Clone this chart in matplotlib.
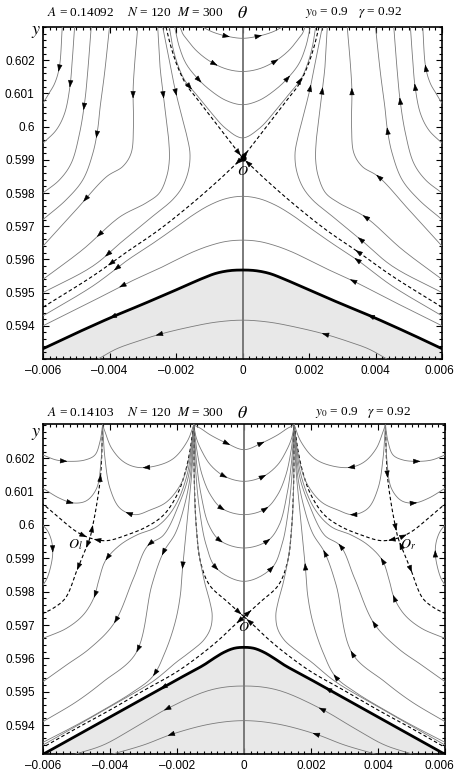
import numpy as np
import matplotlib
matplotlib.use("Agg")
import matplotlib.pyplot as plt
from matplotlib.ticker import FixedLocator, MultipleLocator, FuncFormatter
from matplotlib.transforms import ScaledTranslation

plt.rcParams['font.family'] = 'serif'
plt.rcParams['font.serif'] = ['Liberation Serif', 'DejaVu Serif']
plt.rcParams['mathtext.fontset'] = 'stix'

# ---------------- data: theta in units of 1e-3, y as read ----------------
# upper panel (A = 0.14092); right halves, mirrored for the left side
t_H1_th = [0, 0.5, 0.9, 1.2]
t_H1_y = [0.60266, 0.60273, 0.60285, 0.6030]
t_H2_th = [0, 0.5, 1.0, 1.4, 1.65, 1.8, 1.88]
t_H2_y = [0.60166, 0.60174, 0.60198, 0.6023, 0.6026, 0.6028, 0.6030]
t_H3_th = [0, 0.5, 1.0, 1.37, 1.7, 1.9, 2.04]
t_H3_y = [0.60066, 0.60079, 0.60112, 0.60147, 0.6019, 0.6024, 0.6030]
t_H4_th = [0, 0.5, 1.0, 1.4, 1.74, 1.96, 2.1, 2.2]
t_H4_y = [0.59966, 0.59994, 0.60049, 0.60098, 0.6014, 0.6019, 0.6024, 0.6030]
t_DU_th = [0, 0.5, 1.0, 1.4, 1.69, 1.95, 2.15, 2.3]
t_DU_y = [0.59906, 0.59971, 0.60036, 0.60088, 0.60126, 0.6018, 0.6024, 0.6030]
t_DL_th = [0, 0.35, 0.69, 1.5, 2.5, 3.47, 4.5, 6.0]
t_DL_y = [0.59906, 0.59873, 0.59841, 0.5977, 0.5969, 0.59623, 0.5955, 0.59456]
t_C1_th = [2.40, 2.20, 2.04, 1.85, 1.67, 1.58, 1.62, 1.80, 2.10, 2.70, 3.54, 4.50, 6.00]
t_C1_y = [0.6030, 0.6020, 0.60118, 0.6004, 0.5997, 0.5992, 0.5987, 0.5982, 0.5978, 0.5973, 0.59661, 0.5958, 0.5950]
t_C2_th = [2.55, 2.48, 2.40, 2.30, 2.22, 2.20, 2.28, 2.50, 2.90, 3.69, 4.80, 6.00]
t_C2_y = [0.6030, 0.6018, 0.6011, 0.6003, 0.5996, 0.5990, 0.5985, 0.5980, 0.5977, 0.59728, 0.5963, 0.5954]
t_C3_th = [3.15, 3.25, 3.29, 3.28, 3.35, 3.60, 4.09, 5.00, 6.00]
t_C3_y = [0.6030, 0.6018, 0.60108, 0.6000, 0.5992, 0.5988, 0.59849, 0.5975, 0.5964]
t_C4_th = [4.00, 4.15, 4.28, 4.36, 4.50, 4.80, 5.30, 6.00]
t_C4_y = [0.6030, 0.6016, 0.6006, 0.59989, 0.5992, 0.5984, 0.5978, 0.5972]
t_C5_th = [4.55, 4.66, 4.74, 4.90, 5.15, 5.50, 6.00]
t_C5_y = [0.6030, 0.6016, 0.60079, 0.5998, 0.5989, 0.5984, 0.5980]
t_C6_th = [5.05, 5.12, 5.19, 5.35, 5.60, 6.00]
t_C6_y = [0.6030, 0.6020, 0.60121, 0.6004, 0.5999, 0.5995]
t_C7_th = [5.42, 5.51, 5.65, 5.82, 6.00]
t_C7_y = [0.6030, 0.60178, 0.6013, 0.6010, 0.6007]
t_A_th = [0, 0.5, 1.0, 1.5, 2.0, 2.7, 3.44, 4.5, 6.0]
t_A_y = [0.5979, 0.59783, 0.59763, 0.59733, 0.59697, 0.59648, 0.59599, 0.5952, 0.5943]
t_B_th = [0, 0.5, 1.0, 1.5, 2.0, 2.5, 3.31, 4.5, 6.0]
t_B_y = [0.59658, 0.59654, 0.59641, 0.59622, 0.59598, 0.59573, 0.59536, 0.59475, 0.5940]
t_bold_th = [0, 0.4, 0.8, 1.2, 2.0, 3.0, 3.84, 5.0, 6.0]
t_bold_y = [0.59568, 0.59566, 0.59558, 0.59543, 0.59508, 0.59465, 0.5943, 0.59378, 0.59331]
t_D_th = [0, 0.8, 1.6, 2.47, 3.2, 3.8, 4.34]
t_D_y = [0.59417, 0.59411, 0.59396, 0.59375, 0.59352, 0.5933, 0.5930]

# lower panel (A = 0.14103)
b_U1_th = [0, 0.53, 1.0, 1.3, 1.5]
b_U1_y = [0.60226, 0.60246, 0.6027, 0.6029, 0.6030]
b_U2_th = [0, 0.58, 1.0, 1.25, 1.42, 1.5]
b_U2_y = [0.60131, 0.60146, 0.6018, 0.6022, 0.6026, 0.6030]
b_U3_th = [0, 0.65, 1.0, 1.25, 1.4, 1.5]
b_U3_y = [0.60031, 0.60049, 0.6009, 0.6015, 0.6022, 0.6030]
b_U4_th = [0, 0.71, 1.05, 1.28, 1.42, 1.5]
b_U4_y = [0.59931, 0.59953, 0.6000, 0.6009, 0.6019, 0.6030]
b_U5_th = [0, 0.83, 1.13, 1.32, 1.44, 1.5]
b_U5_y = [0.59831, 0.59871, 0.5994, 0.6004, 0.6016, 0.6030]
b_DC_th = [0, 0.5, 1.03, 1.3, 1.42, 1.48, 1.5]
b_DC_y = [0.59725, 0.5977, 0.5982, 0.5989, 0.5999, 0.6012, 0.6030]
b_DD_th = [0, 0.3, 0.7, 1.2, 2.0, 3.0, 4.0, 5.0, 6.0]
b_DD_y = [0.59725, 0.59698, 0.5966, 0.59618, 0.5956, 0.59503, 0.59445, 0.5939, 0.59333]
b_bold_th = [0, 0.3, 0.6, 0.9, 1.2, 2.0, 3.0, 4.0, 5.0, 6.0]
b_bold_y = [0.59633, 0.5963, 0.59618, 0.596, 0.5958, 0.59536, 0.5948, 0.59424, 0.59368, 0.59312]
b_G1_th = [0, 1.0, 2.31, 3.3, 4.2, 5.12]
b_G1_y = [0.59517, 0.59505, 0.59448, 0.5939, 0.5934, 0.5931]
b_G2_th = [0, 1.0, 2.13, 3.0, 4.02]
b_G2_y = [0.59413, 0.59403, 0.59373, 0.5934, 0.5931]
b_F4_th = [1.5, 1.49, 1.45, 1.35, 1.18, 1.02, 0.95, 1.0, 1.2, 1.6, 2.0, 2.73, 4.0, 5.0, 6.0]
b_F4_y = [0.6030, 0.6016, 0.6003, 0.5992, 0.5983, 0.5977, 0.5973, 0.5969, 0.59655, 0.5962, 0.5959, 0.5953, 0.59455, 0.59397, 0.5934]
b_F3_th = [1.5, 1.55, 1.65, 1.75, 1.83, 1.9, 2.05, 2.35, 2.73, 3.3, 4.2, 5.0, 6.0]
b_F3_y = [0.6030, 0.6017, 0.6006, 0.5996, 0.59877, 0.5979, 0.5971, 0.5962, 0.59545, 0.5950, 0.59445, 0.5940, 0.59348]
b_F2_th = [1.5, 1.6, 1.8, 2.05, 2.41, 2.75, 3.23, 4.2, 5.0, 6.0]
b_F2_y = [0.6030, 0.6015, 0.6005, 0.59975, 0.59917, 0.5982, 0.59615, 0.5953, 0.5947, 0.5941]
b_F1_th = [1.5, 1.65, 1.95, 2.4, 2.88, 3.3, 3.88, 4.6, 5.3, 6.0]
b_F1_y = [0.6030, 0.6015, 0.6006, 0.5997, 0.59937, 0.5984, 0.59705, 0.5963, 0.5958, 0.5953]
b_F0_th = [1.5, 1.7, 2.1, 2.6, 3.2, 3.7, 4.13, 4.32, 4.48, 4.8, 5.3, 6.0]
b_F0_y = [0.6030, 0.6015, 0.6005, 0.59995, 0.5997, 0.5994, 0.59894, 0.5984, 0.59782, 0.5973, 0.5969, 0.5966]
b_SV_th = [4.22, 4.28, 4.4, 4.53, 4.6, 4.8, 4.98, 5.33, 5.7, 6.0]
b_SV_y = [0.6030, 0.6015, 0.6006, 0.59991, 0.59961, 0.5991, 0.59866, 0.59781, 0.5975, 0.59735]
b_SH_th = [1.5, 1.6, 1.75, 2.0, 2.4, 2.9, 3.5, 4.1, 4.6, 5.0, 5.5, 6.0]
b_SH_y = [0.6030, 0.6023, 0.6016, 0.6009, 0.6003, 0.59995, 0.5997, 0.59953, 0.59961, 0.5998, 0.6002, 0.60063]
b_A1_th = [1.5, 1.7, 2.1, 2.6, 3.18, 3.6, 3.95, 4.15, 4.22]
b_A1_y = [0.6030, 0.6025, 0.6020, 0.60178, 0.60173, 0.6019, 0.6023, 0.6028, 0.6030]
b_A2_th = [1.5, 1.6, 1.85, 2.3, 2.8, 3.25, 3.7, 4.0, 4.15, 4.22]
b_A2_y = [0.6030, 0.6022, 0.6013, 0.6007, 0.60045, 0.60031, 0.6005, 0.6011, 0.6020, 0.6030]
b_K1_th = [4.22, 4.3, 4.45, 4.75, 5.18, 5.6, 6.0]
b_K1_y = [0.6030, 0.6025, 0.6021, 0.60195, 0.60191, 0.60195, 0.6021]
b_K2_th = [4.22, 4.27, 4.4, 4.7, 5.08, 5.5, 6.0]
b_K2_y = [0.6030, 0.6019, 0.6011, 0.60073, 0.60066, 0.6008, 0.6011]
b_E_th = [6.0, 5.85, 5.74, 5.71, 5.76, 5.88, 6.0]
b_E_y = [0.6000, 0.5998, 0.5995, 0.59916, 0.5988, 0.5984, 0.5982]

x_ticks = [-0.006, -0.004, -0.002, 0, 0.002, 0.004, 0.006]
y_ticks = [0.594, 0.595, 0.596, 0.597, 0.598, 0.599, 0.600, 0.601, 0.602]

# arrow marks: (curve, theta, y, sense along the listed points)
top_arrows = [
    ('H1', 0.49, 0.60276, 1), ('H1', -0.46, 0.60276, 1),
    ('H2', 0.99, 0.60199, 1), ('H2', -0.81, 0.60193, 1),
    ('H3', 1.37, 0.60149, 1), ('H3', -1.28, 0.60139, 1),
    ('H4', 1.74, 0.6014, 1), ('H4', -1.61, 0.60116, 1),
    ('C1r', 2.04, 0.60118, -1), ('C1r', 3.54, 0.59661, -1),
    ('C1l', -1.96, 0.60104, 1), ('C1l', -4.09, 0.59619, 1),
    ('C2r', 2.44, 0.60108, -1), ('C2r', 3.69, 0.59728, -1),
    ('C2l', -2.41, 0.60091, 1), ('C2l', -4.26, 0.59669, 1),
    ('C3r', 3.29, 0.60108, -1), ('C3r', 4.09, 0.59849, -1),
    ('C3l', -3.26, 0.60096, 1), ('C3l', -4.63, 0.59769, 1),
    ('C4r', 4.36, 0.59989, -1), ('C4l', -4.36, 0.59976, 1),
    ('C5r', 4.74, 0.60079, -1), ('C5l', -4.78, 0.60056, 1),
    ('C6r', 5.19, 0.60121, -1), ('C6l', -5.11, 0.60126, 1),
    ('C7r', 5.51, 0.60178, -1), ('C7l', -5.46, 0.60173, 1),
    ('DLr', 3.47, 0.59623, -1), ('DLl', -3.94, 0.59586, 1),
    ('DLr', 0.14, 0.59893, -1), ('DLl', -0.14, 0.59893, 1),
    ('DUr', 0.12, 0.59922, 1), ('DUl', -0.12, 0.59922, -1),
    ('A', 3.44, 0.59599, -1), ('A', -3.86, 0.59573, -1),
    ('B', 3.31, 0.59536, -1), ('B', -3.61, 0.59521, -1),
    ('bold', 3.84, 0.5943, -1), ('bold', -3.96, 0.59441, -1),
    ('D', 2.47, 0.59375, -1), ('D', -2.51, 0.59376, -1),
]
bot_arrows = [
    ('U1', 0.53, 0.60246, 1), ('U1', -0.47, 0.60245, 1),
    ('U2', 0.58, 0.60146, 1), ('U2', -0.57, 0.60147, 1),
    ('U3', 0.65, 0.60049, 1), ('U3', -0.64, 0.60047, 1),
    ('U4', 0.71, 0.59953, 1), ('U4', -0.72, 0.5995, 1),
    ('U5', 0.83, 0.59871, 1), ('U5', -0.83, 0.59871, 1),
    ('A1r', 3.18, 0.60173, -1), ('A1l', -2.92, 0.60171, 1),
    ('A2r', 3.25, 0.60031, -1), ('A2l', -3.47, 0.60031, 1),
    ('K1r', 5.18, 0.60191, 1), ('K1l', -5.37, 0.60185, -1),
    ('K2r', 5.08, 0.60066, 1), ('K2l', -5.17, 0.6006, -1),
    ('Er', 5.71, 0.59916, -1), ('El', -5.67, 0.59925, 1),
    ('SVr', 4.28, 0.60151, 1), ('SVr', 4.98, 0.59866, 1),
    ('SVl', -4.27, 0.60141, -1), ('SVl', -4.92, 0.59871, 1),
    ('SVr', 4.53, 0.59991, 1), ('SVr', 4.68, 0.5994, -1),
    ('SVl', -4.53, 0.59991, -1), ('SVl', -4.68, 0.5994, 1),
    ('SHr', 4.4, 0.59955, -1), ('SHr', 4.78, 0.5997, 1),
    ('SHl', -4.4, 0.59955, 1), ('SHl', -4.78, 0.5997, -1),
    ('F0r', 4.13, 0.59894, -1), ('F0r', 4.48, 0.59782, -1),
    ('F0l', -4.12, 0.59906, 1), ('F0l', -4.42, 0.5979, 1),
    ('F1r', 2.88, 0.59937, -1), ('F1r', 3.88, 0.59705, -1),
    ('F1l', -2.82, 0.59941, 1), ('F1l', -3.84, 0.59712, 1),
    ('F2r', 2.41, 0.59917, -1), ('F2r', 3.23, 0.59615, -1),
    ('F2l', -2.37, 0.59916, 1), ('F2l', -3.17, 0.59625, 1),
    ('F3r', 1.83, 0.59877, -1), ('F3r', 2.73, 0.59545, -1),
    ('F3l', -1.82, 0.59876, 1), ('F3l', -2.67, 0.59552, 1),
    ('DCr', 0.15, 0.59739, 1), ('DCl', -0.15, 0.59739, -1),
    ('DDr', 0.15, 0.59711, -1), ('DDl', -0.15, 0.59711, 1),
    ('bold', 2.53, 0.5951, -1), ('bold', -2.45, 0.59517, -1),
    ('G1', 2.31, 0.59448, -1), ('G1', -2.32, 0.59452, -1),
    ('G2', 2.13, 0.59373, -1), ('G2', -2.22, 0.59375, -1),
]


def mirror(th, y):
    return [-t for t in th], list(y)


def sym(th, y):
    # full curve from the right half, ordered by increasing theta
    return [-t for t in th[::-1]] + list(th[1:]), list(y[::-1]) + list(y[1:])


def smooth(th, y, n=14):
    # centripetal Catmull-Rom through the read points
    P = np.column_stack([np.asarray(th, float), np.asarray(y, float) * 1000])
    P = np.vstack([2 * P[0] - P[1], P, 2 * P[-1] - P[-2]])
    out = []
    for i in range(1, len(P) - 2):
        p0, p1, p2, p3 = P[i - 1], P[i], P[i + 1], P[i + 2]
        t0 = 0.0
        t1 = t0 + max(np.linalg.norm(p1 - p0), 1e-6) ** 0.5
        t2 = t1 + max(np.linalg.norm(p2 - p1), 1e-6) ** 0.5
        t3 = t2 + max(np.linalg.norm(p3 - p2), 1e-6) ** 0.5
        t = np.linspace(t1, t2, n, endpoint=False)[:, None]
        a1 = (t1 - t) / (t1 - t0) * p0 + (t - t0) / (t1 - t0) * p1
        a2 = (t2 - t) / (t2 - t1) * p1 + (t - t1) / (t2 - t1) * p2
        a3 = (t3 - t) / (t3 - t2) * p2 + (t - t2) / (t3 - t2) * p3
        b1 = (t2 - t) / (t2 - t0) * a1 + (t - t0) / (t2 - t0) * a2
        b2 = (t3 - t) / (t3 - t1) * a2 + (t - t1) / (t3 - t1) * a3
        out.append((t2 - t) / (t2 - t1) * b1 + (t - t1) / (t2 - t1) * b2)
    out.append(P[-2][None, :])
    arr = np.vstack(out)
    return arr[:, 0], arr[:, 1] / 1000


def draw(ax, curves, styles):
    paths = {}
    for key, (th, y) in curves.items():
        xs, ys = smooth(th, y)
        paths[key] = (xs, ys)
        ax.plot(xs * 1e-3, ys, **styles.get(key, THIN), zorder=3)
    return paths


def arrows(ax, paths, marks):
    for key, th, yv, s in marks:
        xs, ys = paths[key]
        d = (xs - th) ** 2 + ((ys - yv) * 1000) ** 2
        i = min(max(int(np.argmin(d)), 1), len(xs) - 2)
        dx = xs[i + 1] - xs[i - 1]
        dy = (ys[i + 1] - ys[i - 1]) * 1000
        nrm = np.hypot(dx, dy)
        dx, dy = s * dx / nrm, s * dy / nrm
        L = 0.09
        ax.annotate('', xy=((xs[i] + dx * L) * 1e-3, ys[i] + dy * L * 1e-3),
                    xytext=((xs[i] - dx * L) * 1e-3, ys[i] - dy * L * 1e-3),
                    arrowprops=dict(arrowstyle='-|>,head_length=0.45,head_width=0.16',
                                    color='k', lw=0.4, shrinkA=0, shrinkB=0),
                    zorder=5)


THIN = dict(color='#7a7a7a', lw=0.6)
DASH = dict(color='k', lw=0.8, dashes=(3.2, 2.2))
BOLD = dict(color='k', lw=2.0)


def setup(ax, ylim, shift):
    ax.set_xlim(-0.006, 0.006)
    ax.set_ylim(*ylim)
    ax.xaxis.set_major_locator(FixedLocator(x_ticks))
    ax.yaxis.set_major_locator(FixedLocator(y_ticks))
    ax.xaxis.set_minor_locator(MultipleLocator(0.0002))
    ax.yaxis.set_minor_locator(MultipleLocator(0.0002))
    ax.xaxis.set_major_formatter(FuncFormatter(
        lambda v, p: '0' if abs(v) < 1e-9 else ('\u2013' if v < 0 else '') + f'{abs(v):.3f}'))
    ax.yaxis.set_major_formatter(FuncFormatter(
        lambda v, p: f'{v:.3f}'.rstrip('0').rstrip('.')))
    ax.tick_params(which='both', direction='in', top=True, right=True,
                   labelsize=8.5, labelfontfamily='Liberation Sans', width=0.8)
    ax.tick_params(which='major', length=4.5)
    ax.tick_params(which='minor', length=2.5)
    ax.tick_params(axis='y', pad=6)
    ax.tick_params(axis='x', pad=4)
    for sp in ax.spines.values():
        sp.set_linewidth(1.2)
    ax.axvline(0, color='#707070', lw=1.3, zorder=2)
    # keep the last x label inside the canvas
    lab = ax.xaxis.get_major_ticks()[-1].label1
    lab.set_transform(lab.get_transform() + ScaledTranslation(-shift / 100, 0, fig.dpi_scale_trans))


fig = plt.figure(figsize=(4.55, 7.81), dpi=100)

# ---------------- upper panel ----------------
ax1 = fig.add_axes([43 / 455, 1 - 359 / 781, 399 / 455, 332 / 781])
setup(ax1, (0.593, 0.603), 3)
top = {}
for k, (th, y) in {'H1': (t_H1_th, t_H1_y), 'H2': (t_H2_th, t_H2_y), 'H3': (t_H3_th, t_H3_y),
                   'H4': (t_H4_th, t_H4_y), 'A': (t_A_th, t_A_y), 'B': (t_B_th, t_B_y),
                   'bold': (t_bold_th, t_bold_y), 'D': (t_D_th, t_D_y)}.items():
    top[k] = sym(th, y)
for k, (th, y) in {'C1': (t_C1_th, t_C1_y), 'C2': (t_C2_th, t_C2_y), 'C3': (t_C3_th, t_C3_y),
                   'C4': (t_C4_th, t_C4_y), 'C5': (t_C5_th, t_C5_y), 'C6': (t_C6_th, t_C6_y),
                   'C7': (t_C7_th, t_C7_y), 'DU': (t_DU_th, t_DU_y), 'DL': (t_DL_th, t_DL_y)}.items():
    top[k + 'r'] = (th, y)
    top[k + 'l'] = mirror(th, y)
bx, by = smooth(*top['bold'])
ax1.fill_between(bx * 1e-3, by, 0.593, color='#e8e8e8', lw=0, zorder=1)
sty1 = {'DUr': DASH, 'DUl': DASH, 'DLr': DASH, 'DLl': DASH, 'bold': BOLD}
p1 = draw(ax1, top, sty1)
arrows(ax1, p1, top_arrows)
ax1.plot([0], [0.59906], 'o', color='k', ms=3.5, zorder=6)
ax1.text(0, 0.59865, '$O$', ha='center', va='center', fontsize=10, zorder=6)

# ---------------- lower panel ----------------
ax2 = fig.add_axes([43 / 455, 1 - 754 / 781, 402 / 455, 330 / 781])
setup(ax2, (0.59313, 0.60303), 6)
bot = {}
for k, (th, y) in {'U1': (b_U1_th, b_U1_y), 'U2': (b_U2_th, b_U2_y), 'U3': (b_U3_th, b_U3_y),
                   'U4': (b_U4_th, b_U4_y), 'U5': (b_U5_th, b_U5_y),
                   'bold': (b_bold_th, b_bold_y), 'G1': (b_G1_th, b_G1_y),
                   'G2': (b_G2_th, b_G2_y)}.items():
    bot[k] = sym(th, y)
for k, (th, y) in {'DC': (b_DC_th, b_DC_y), 'DD': (b_DD_th, b_DD_y), 'F0': (b_F0_th, b_F0_y),
                   'F1': (b_F1_th, b_F1_y), 'F2': (b_F2_th, b_F2_y), 'F3': (b_F3_th, b_F3_y),
                   'F4': (b_F4_th, b_F4_y), 'SV': (b_SV_th, b_SV_y), 'SH': (b_SH_th, b_SH_y),
                   'A1': (b_A1_th, b_A1_y), 'A2': (b_A2_th, b_A2_y), 'K1': (b_K1_th, b_K1_y),
                   'K2': (b_K2_th, b_K2_y), 'E': (b_E_th, b_E_y)}.items():
    bot[k + 'r'] = (th, y)
    bot[k + 'l'] = mirror(th, y)
bx, by = smooth(*bot['bold'])
ax2.fill_between(bx * 1e-3, by, 0.59313, color='#e8e8e8', lw=0, zorder=1)
sty2 = {k: DASH for k in ['DCr', 'DCl', 'DDr', 'DDl', 'SVr', 'SVl', 'SHr', 'SHl']}
sty2['bold'] = BOLD
p2 = draw(ax2, bot, sty2)
arrows(ax2, p2, bot_arrows)
ax2.text(0, 0.59692, '$O$', ha='center', va='center', fontsize=10, zorder=6)
ax2.text(-0.00504, 0.59941, '$O_l$', ha='center', va='center', fontsize=10, zorder=6)
ax2.text(0.0049, 0.59941, '$O_r$', ha='center', va='center', fontsize=10, zorder=6)

# ---------------- header texts ----------------
for ytop, A, xs in [(13, '0.14092', (47, 127, 177, 242, 305, 358)),
                    (413, '0.14103', (47, 127, 177, 242, 315, 367))]:
    yf = 1 - ytop / 781
    fig.text(xs[0] / 455, yf, '$A$ = ' + A, fontsize=9.5, va='center')
    fig.text(xs[1] / 455, yf, '$N$ = 120', fontsize=9.5, va='center')
    fig.text(xs[2] / 455, yf, '$M$ = 300', fontsize=9.5, va='center')
    fig.text(xs[3] / 455, yf, r'$\theta$', fontsize=13, va='center', ha='center')
    fig.text(xs[4] / 455, yf, '$y_0$ = 0.9', fontsize=9.5, va='center')
    fig.text(xs[5] / 455, yf, r'$\gamma$ = 0.92', fontsize=9.5, va='center')
fig.text(36 / 455, 1 - 31 / 781, '$y$', fontsize=13, ha='center', va='center')
fig.text(36 / 455, 1 - 433 / 781, '$y$', fontsize=13, ha='center', va='center')

fig.savefig('out.png', dpi=100)
